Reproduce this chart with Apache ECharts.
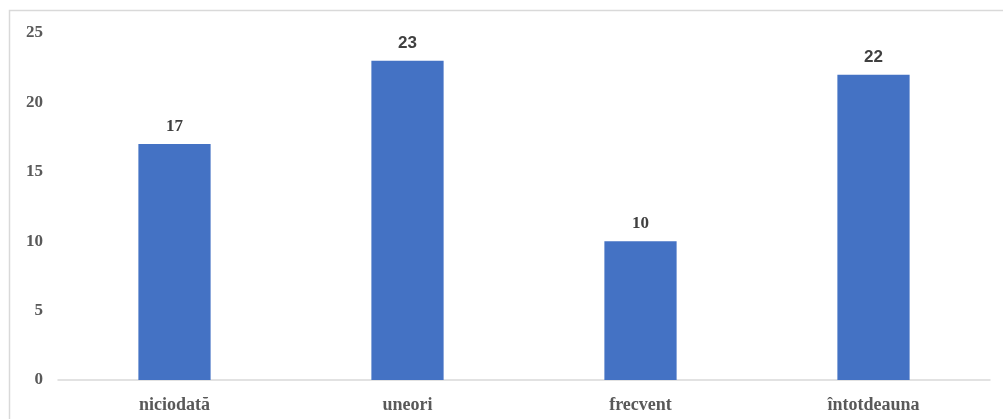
<!DOCTYPE html>
<html>
<head>
<meta charset="utf-8">
<style>
  html, body { margin: 0; padding: 0; background: #ffffff; }
  #chart { width: 1003px; height: 419px; }
</style>
<script src="https://cdn.jsdelivr.net/npm/echarts@6/dist/echarts.min.js"></script>
</head>
<body>
<div id="chart"></div>
<script>
// Answers per frequency category
const categories = ['niciodată', 'uneori', 'frecvent', 'întotdeauna'];
const counts = [17, 23, 10, 22];
const yTicks = [0, 5, 10, 15, 20, 25];

const serif = '"Liberation Serif", "Times New Roman", serif';
const sans = '"Liberation Sans", Arial, sans-serif';
// value labels of the two taller bars are set in a sans face
const labelFonts = [serif, sans, serif, sans];

const chart = echarts.init(document.getElementById('chart'), null, { renderer: 'canvas' });

chart.setOption({
  animation: false,
  backgroundColor: '#ffffff',
  graphic: [{
    type: 'rect',
    shape: { x: 9.5, y: 10.5, width: 1010, height: 430 },
    style: { fill: 'none', stroke: '#d9d9d9', lineWidth: 1.5 },
    silent: true
  }],
  grid: { left: 58, right: 13, top: 33, bottom: 39, containLabel: false },
  xAxis: {
    type: 'category',
    data: categories,
    axisLine: { show: true, lineStyle: { color: '#d9d9d9', width: 1.5 } },
    axisTick: { show: false },
    axisLabel: {
      margin: 16,
      color: '#595959',
      fontFamily: serif,
      fontWeight: 'bold',
      fontSize: 18
    }
  },
  yAxis: {
    type: 'value',
    min: yTicks[0],
    max: yTicks[yTicks.length - 1],
    interval: yTicks[1] - yTicks[0],
    axisLine: { show: false },
    axisTick: { show: false },
    splitLine: { show: false },
    axisLabel: {
      margin: 15,
      padding: [5, 0, 0, 0],
      color: '#595959',
      fontFamily: serif,
      fontWeight: 'bold',
      fontSize: 17
    }
  },
  series: [{
    type: 'bar',
    barWidth: '31%',
    data: counts.map((v, i) => ({
      value: v,
      label: { fontFamily: labelFonts[i] }
    })),
    itemStyle: { color: '#4472c4' },
    label: {
      show: true,
      position: 'top',
      distance: 9,
      color: '#404040',
      fontWeight: 'bold',
      fontSize: 17
    }
  }]
});
</script>
</body>
</html>
